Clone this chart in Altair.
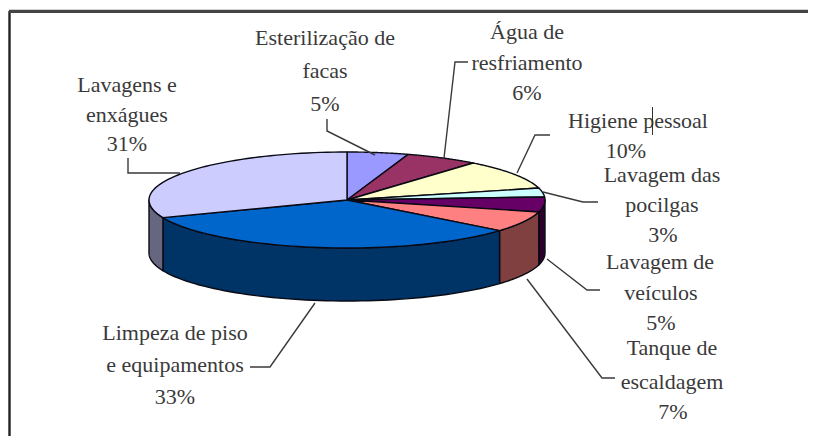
import numpy as np
import altair as alt

# --- data ---
names = ["Esterilização de facas", "Água de resfriamento", "Higiene pessoal", "Lavagem das pocilgas",
         "Lavagem de veículos", "Tanque de escaldagem", "Limpeza de piso e equipamentos", "Lavagens e enxágues"]
values = [5, 6, 10, 3, 5, 7, 33, 31]
top_colors = ["#9999FF", "#993366", "#FFFFCC", "#CCFFFF", "#660066", "#FF8080", "#0066CC", "#CCCCFF"]
side_colors = ["#4C4C80", "#4C1A33", "#808066", "#668080", "#2B002B", "#804040", "#003366", "#666680"]
label_lines = [
    ["Esterilização de", "facas", "5%"],
    ["Água de", "resfriamento", "6%"],
    ["Higiene pessoal"],
    ["Lavagem das", "pocilgas", "3%"],
    ["Lavagem de", "veículos", "5%"],
    ["Tanque de", "escaldagem", "7%"],
    ["Limpeza de piso", "e equipamentos", "33%"],
    ["Lavagens e", "enxágues", "31%"],
]

# --- layout (page pixels; page margin is 8) ---
OFF = 8
CX, CY, RX, RY, DEPTH = 347 - OFF, 200 - OFF, 198, 48, 53
W, H = 800, 428
label_pos = [
    [(325, 38), (325, 71), (325, 104)],
    [(527, 32), (527, 63), (527, 93)],
    [(638, 121)],
    [(662, 175), (662, 205), (663, 235)],
    [(660, 262), (661, 293), (661, 323)],
    [(672, 348), (672, 382), (673, 412)],
    [(175, 333), (175, 365), (175, 397)],
    [(127, 85), (127, 115), (127, 144)],
]
extra_labels = [("10%", 626, 151)]
leaders = [
    [(327, 119), (327, 131), (375, 155)],
    [(468, 62), (455, 62), (444, 158)],
    [(517, 173), (535, 135), (550, 135)],
    [(543, 192), (583, 202), (598, 202)],
    [(547, 259), (587, 290), (600, 290)],
    [(527, 279), (602, 378), (615, 378)],
    [(315, 303), (270, 367), (250, 367)],
    [(180, 173), (128, 173), (128, 158)],
]


def pt(theta, dy=0.0):
    t = np.radians(theta)
    return [float(CX + RX * np.sin(t)), float(CY - RY * np.cos(t) + dy)]


def feature(ring, fill):
    ring = ring + [ring[0]]
    return {"type": "Feature", "geometry": {"type": "Polygon", "coordinates": [ring]},
            "properties": {"fill": fill}}


edges = np.cumsum([0] + values) * 3.6
tops, sides = [], []
for i in range(len(values)):
    a, b = edges[i], edges[i + 1]
    arc = [pt(t) for t in np.linspace(a, b, 60)]
    tops.append(feature([[CX, CY]] + arc, top_colors[i]))
    lo, hi = max(a, 90.0), min(b, 270.0)
    if hi > lo:
        ts = np.linspace(lo, hi, 60)
        sides.append(feature([pt(t) for t in ts] + [pt(t, DEPTH) for t in ts[::-1]], side_colors[i]))

shape_layer = (
    alt.Chart(alt.Data(values=sides + tops))
    .mark_geoshape(stroke="#0a0a14", strokeWidth=1.4, strokeJoin="round")
    .encode(fill=alt.Fill("properties.fill:N", scale=None))
    .project(type="identity", scale=1, translate=[0, 0])
)

line_rows = []
for k, seg in enumerate(leaders):
    for j, (x, y) in enumerate(seg):
        line_rows.append({"k": k, "j": j, "x": x - OFF, "y": y - OFF})
leader_layer = (
    alt.Chart(alt.Data(values=line_rows))
    .mark_line(color="#3a3a3a", strokeWidth=1.4)
    .encode(x=alt.X("x:Q", scale=None), y=alt.Y("y:Q", scale=None), detail="k:N", order="j:Q")
)

text_rows = []
for lines, poss in zip(label_lines, label_pos):
    for t, (x, y) in zip(lines, poss):
        text_rows.append({"t": t, "x": x - OFF, "y": y - OFF})
for t, x, y in extra_labels:
    text_rows.append({"t": t, "x": x - OFF, "y": y - OFF})
text_layer = (
    alt.Chart(alt.Data(values=text_rows))
    .mark_text(font="Liberation Serif", fontSize=22, color="#3a3a3a", align="center", baseline="middle")
    .encode(x=alt.X("x:Q", scale=None), y=alt.Y("y:Q", scale=None), text="t:N")
)

frame_rows = [
    {"x": 1.5, "x2": 1.5, "y": 3, "y2": H, "w": 2.4, "c": "#222222"},
    {"x": 1, "x2": W, "y": 3.4, "y2": 3.4, "w": 3.2, "c": "#444444"},
    {"x": 644.5, "x2": 644.5, "y": 99, "y2": 127, "w": 1, "c": "#333333"},
]
frame_layer = (
    alt.Chart(alt.Data(values=frame_rows))
    .mark_rule()
    .encode(
        x=alt.X("x:Q", scale=None), x2="x2:Q",
        y=alt.Y("y:Q", scale=None), y2="y2:Q",
        strokeWidth=alt.StrokeWidth("w:Q", scale=None),
        color=alt.Color("c:N", scale=None),
    )
)

chart = (
    alt.layer(shape_layer, leader_layer, text_layer, frame_layer)
    .resolve_scale(x="independent", y="independent")
    .properties(width=W, height=H, padding=0, autosize=alt.AutoSizeParams(type="none"), background="white")
    .configure_view(stroke=None)
)
chart.save("out.html", embed_options={"renderer": "svg", "actions": False})
